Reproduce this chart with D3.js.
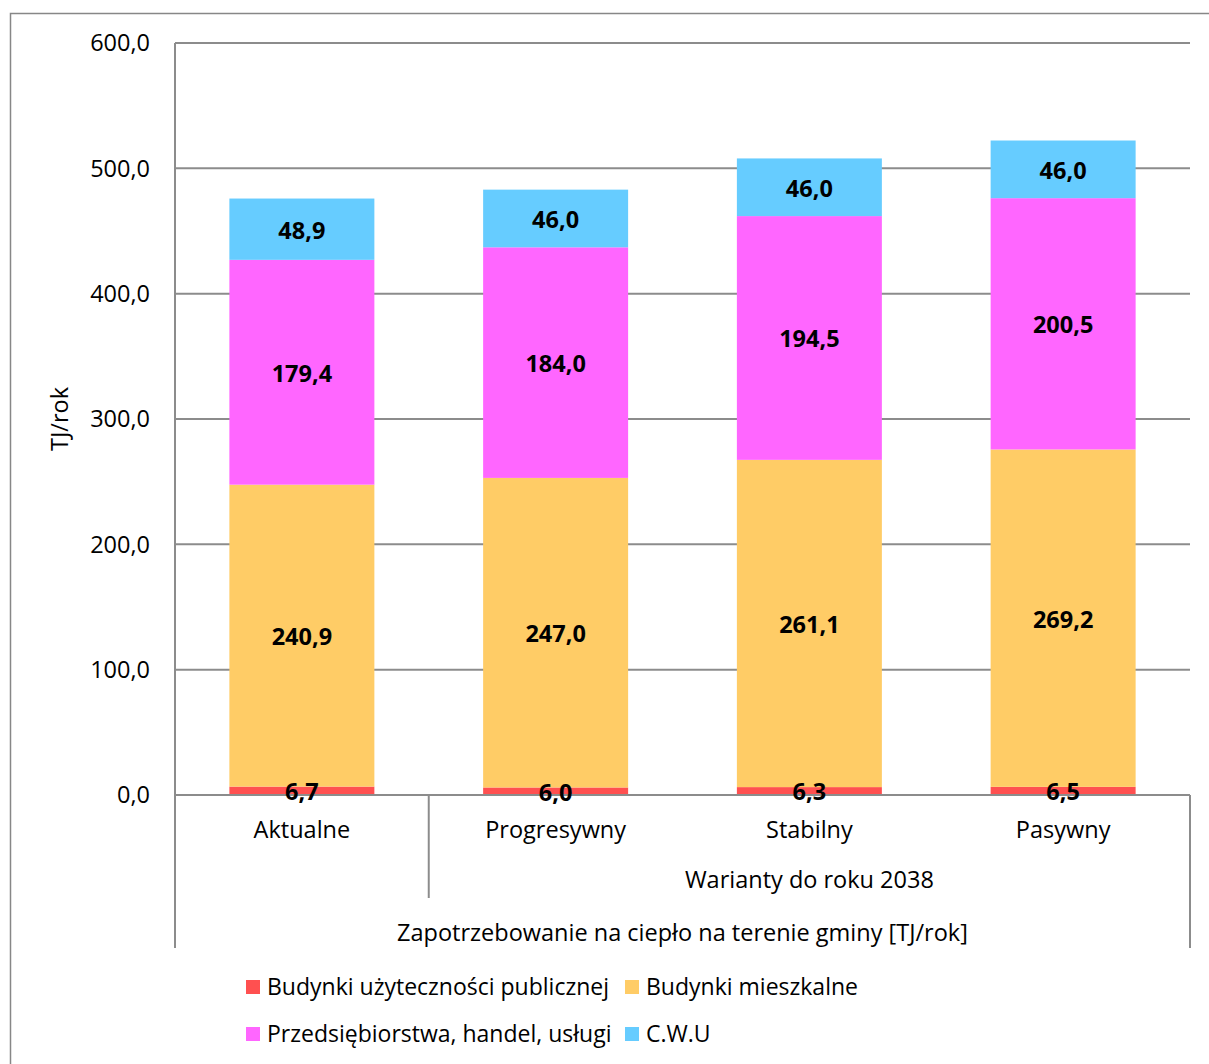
<!DOCTYPE html>
<html>
<head>
<meta charset="utf-8">
<script src="https://cdn.jsdelivr.net/npm/d3@7"></script>
<style>
  body { margin: 0; background: #fff; }
  svg text { font-family: "Open Sans", sans-serif; fill: #000; }
</style>
</head>
<body>
<div class="chart"></div>
<script>
// Zapotrzebowanie na ciepło - stacked columns
var categories = ["Aktualne", "Progresywny", "Stabilny", "Pasywny"];
var groupLabels = ["", "Warianty do roku 2038", "Warianty do roku 2038", "Warianty do roku 2038"];
var outerLabel = "Zapotrzebowanie na ciepło na terenie gminy [TJ/rok]";
var seriesNames = ["Budynki użyteczności publicznej", "Budynki mieszkalne", "Przedsiębiorstwa, handel, usługi", "C.W.U"];
var publiczne = [6.7, 6.0, 6.3, 6.5];
var mieszkalne = [240.9, 247.0, 261.1, 269.2];
var przedsiebiorstwa = [179.4, 184.0, 194.5, 200.5];
var cwu = [48.9, 46.0, 46.0, 46.0];
var yTicks = [0, 100, 200, 300, 400, 500, 600];

var colors = ["#FF5050", "#FFCC66", "#FF66FF", "#66CCFF"];

var svgWidth = 1209;
var svgHeight = 1064;
var margin = { top: 43, right: 19, bottom: 269, left: 175 };
var width = svgWidth - margin.left - margin.right;
var height = svgHeight - margin.top - margin.bottom;
var fs = 23.5;

var svg = d3.select(".chart")
  .append("svg")
  .attr("width", svgWidth)
  .attr("height", svgHeight);

// outer chart frame
svg.append("rect")
  .attr("x", 10.5).attr("y", 13.5)
  .attr("width", 1230).attr("height", 1100)
  .attr("fill", "none")
  .attr("stroke", "#878787")
  .attr("stroke-width", 1.5);

var chart = svg.append("g")
  .attr("transform", "translate(" + margin.left + "," + margin.top + ")");

var x = d3.scaleBand().domain(categories).range([0, width]).paddingInner(0.4286).paddingOuter(0.2143);
var y = d3.scaleLinear().domain([0, 600]).range([height, 0]);

// gridlines
chart.append("g")
  .selectAll("line")
  .data(yTicks)
  .enter().append("line")
  .attr("x1", 0).attr("x2", width)
  .attr("y1", function(d) { return y(d); })
  .attr("y2", function(d) { return y(d); })
  .attr("stroke", "#8c8c8c")
  .attr("stroke-width", 2);

// stacked data
var table = categories.map(function(c, i) {
  return { cat: c, s0: publiczne[i], s1: mieszkalne[i], s2: przedsiebiorstwa[i], s3: cwu[i] };
});
var stack = d3.stack().keys(["s0", "s1", "s2", "s3"]);
var layers = stack(table);

var layerG = chart.selectAll(".layer")
  .data(layers)
  .enter().append("g")
  .attr("class", "layer")
  .attr("fill", function(d, i) { return colors[i]; });

layerG.selectAll("rect")
  .data(function(d) { return d; })
  .enter().append("rect")
  .attr("x", function(d) { return x(d.data.cat); })
  .attr("width", x.bandwidth())
  .attr("y", function(d) { return y(d[1]); })
  .attr("height", function(d) { return y(d[0]) - y(d[1]); });

// y axis line
chart.append("line")
  .attr("x1", 0).attr("x2", 0).attr("y1", 0).attr("y2", height)
  .attr("stroke", "#8c8c8c").attr("stroke-width", 2);

// y tick labels
var fmt = function(v) { return d3.format(".1f")(v).replace(".", ","); };
chart.append("g")
  .selectAll("text")
  .data(yTicks)
  .enter().append("text")
  .attr("x", -25)
  .attr("y", function(d) { return y(d); })
  .attr("dy", "0.35em")
  .attr("text-anchor", "end")
  .attr("font-size", fs)
  .text(fmt);

// y axis title
chart.append("text")
  .attr("transform", "translate(" + (-115) + "," + (height / 2) + ") rotate(-90)")
  .attr("text-anchor", "middle")
  .attr("dy", "0.35em")
  .attr("font-size", fs)
  .text("TJ/rok");

// multi-level category axis
var step = x.step();
var axisG = chart.append("g").attr("transform", "translate(0," + height + ")");
axisG.append("line")
  .attr("x1", 0).attr("x2", width).attr("y1", 0).attr("y2", 0)
  .attr("stroke", "#8c8c8c").attr("stroke-width", 2);
// outer separators
[0, width].forEach(function(px) {
  axisG.append("line")
    .attr("x1", px).attr("x2", px).attr("y1", 0).attr("y2", 153)
    .attr("stroke", "#8c8c8c").attr("stroke-width", 2);
});
// group separator between Aktualne and the variants
axisG.append("line")
  .attr("x1", step).attr("x2", step).attr("y1", 0).attr("y2", 103)
  .attr("stroke", "#8c8c8c").attr("stroke-width", 2);

axisG.selectAll(".cat")
  .data(categories)
  .enter().append("text")
  .attr("class", "cat")
  .attr("x", function(d) { return x(d) + x.bandwidth() / 2; })
  .attr("y", 35)
  .attr("dy", "0.35em")
  .attr("text-anchor", "middle")
  .attr("font-size", fs)
  .text(function(d) { return d; });

axisG.append("text")
  .attr("x", (step + width) / 2)
  .attr("y", 85)
  .attr("dy", "0.35em")
  .attr("text-anchor", "middle")
  .attr("font-size", fs)
  .text(groupLabels[1]);

axisG.append("text")
  .attr("x", width / 2)
  .attr("y", 138)
  .attr("dy", "0.35em")
  .attr("text-anchor", "middle")
  .attr("font-size", fs)
  .text(outerLabel);

// data labels (drawn above all bars)
var labelG = chart.append("g");
layers.forEach(function(layer) {
  labelG.selectAll(null)
    .data(layer)
    .enter().append("text")
    .attr("x", function(d) { return x(d.data.cat) + x.bandwidth() / 2; })
    .attr("y", function(d) { return (y(d[0]) + y(d[1])) / 2; })
    .attr("dy", "0.4em")
    .attr("text-anchor", "middle")
    .attr("font-size", fs)
    .attr("font-weight", "bold")
    .text(function(d) { return fmt(d[1] - d[0]); });
});

// legend
var legendPos = [[246, 987], [625, 987], [246, 1034], [625, 1034]];
var legend = svg.selectAll(".legend")
  .data(seriesNames)
  .enter().append("g")
  .attr("class", "legend")
  .attr("transform", function(d, i) { return "translate(" + legendPos[i][0] + "," + legendPos[i][1] + ")"; });
legend.append("rect")
  .attr("x", 0).attr("y", -7)
  .attr("width", 14).attr("height", 14)
  .attr("fill", function(d, i) { return colors[i]; });
legend.append("text")
  .attr("x", 21)
  .attr("dy", "0.35em")
  .attr("font-size", 23)
  .text(function(d) { return d; });
</script>
</body>
</html>
